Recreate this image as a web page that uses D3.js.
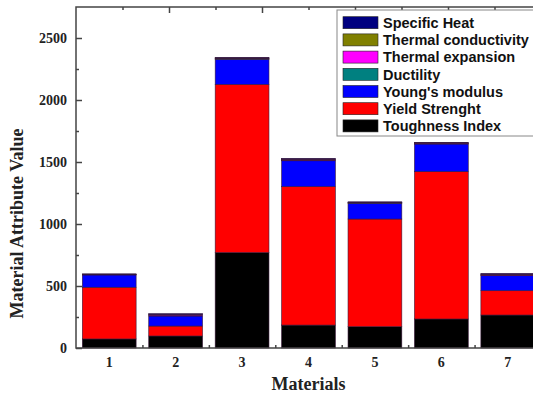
<!DOCTYPE html>
<html lang="en">
<head>
    <meta charset="UTF-8">
    <title>Material attributes</title>
    <style>
        body { margin: 0; background: #fff; }
        .tick-label { font-family: "Liberation Serif", "Times New Roman", serif; font-weight: bold; font-size: 14px; fill: #222; }
        .axis-title { font-family: "Liberation Serif", "Times New Roman", serif; font-weight: bold; font-size: 18px; fill: #222; }
        .legend-text { font-family: "Liberation Sans", Arial, sans-serif; font-weight: bold; font-size: 14.5px; fill: #111; }
    </style>
</head>
<body>
<script src="https://cdn.jsdelivr.net/npm/d3@7"></script>
<script>
    var materials = [1, 2, 3, 4, 5, 6, 7];

    // series, bottom to top of each stack
    var toughness = [73, 97, 770, 185, 172, 234, 266];
    var yieldStrength = [417, 80, 1356, 1116, 868, 1188, 196];
    var youngs = [99, 81, 202, 209, 127, 223, 121];
    var ductility = [2, 5, 4, 5, 3, 3, 4];
    var thermalExpansion = [3, 6, 5, 6, 4, 4, 6];
    var thermalConductivity = [1, 2, 1, 2, 1, 1, 2];
    var specificHeat = [3, 6, 5, 6, 4, 5, 6];

    var yTicks = [0, 500, 1000, 1500, 2000, 2500];

    var seriesNames = ["Toughness Index", "Yield Strenght", "Young's modulus", "Ductility",
        "Thermal expansion", "Thermal conductivity", "Specific Heat"];
    var seriesValues = [toughness, yieldStrength, youngs, ductility,
        thermalExpansion, thermalConductivity, specificHeat];
    var seriesColors = ["#000000", "#ff0000", "#0000ff", "#008080", "#ff00ff", "#808000", "#000080"];

    var width = 533, height = 397;
    var pLeft = 76, pRight = 541, pTop = 7, pBottom = 348;

    var svg = d3.select("body").append("svg")
        .attr("width", width)
        .attr("height", height);

    var x = d3.scaleLinear().domain([0.5, 7.5]).range([pLeft, pRight]);
    var xTop = d3.scaleLinear().domain([0, 10]).range([pLeft, pRight]);
    var y = d3.scaleLinear().domain([0, 2750]).range([pBottom, pTop]);

    /* table for the stack */
    var rows = materials.map(function (m, i) {
        var r = {material: m};
        seriesNames.forEach(function (n, k) { r[n] = seriesValues[k][i]; });
        return r;
    });
    var stacked = d3.stack().keys(seriesNames)(rows);

    var barW = x(1.31) - x(0.5);
    var axisColor = "#444";

    /* bars */
    svg.append("g").selectAll("g")
        .data(stacked)
        .enter().append("g")
        .attr("fill", function (d, i) { return seriesColors[i]; })
        .selectAll("rect")
        .data(function (d) { return d; })
        .enter().append("rect")
        .attr("x", function (d) { return x(d.data.material) - barW / 2; })
        .attr("y", function (d) { return y(d[1]); })
        .attr("width", barW)
        .attr("height", function (d) { return y(d[0]) - y(d[1]); })
        .attr("stroke", "#3a1a3a")
        .attr("stroke-width", 0.6);

    /* y axis, ticks inward */
    svg.append("g").attr("transform", "translate(" + pLeft + ",0)")
        .call(d3.axisRight(y).tickValues(yTicks).tickSize(6).tickFormat(""));
    svg.append("g").attr("transform", "translate(" + pLeft + ",0)")
        .call(d3.axisRight(y).tickValues(d3.range(250, 2750, 500)).tickSize(3).tickFormat(""));

    svg.append("g").selectAll("text")
        .data(yTicks)
        .enter().append("text")
        .attr("class", "tick-label")
        .attr("x", pLeft - 9)
        .attr("y", function (d) { return y(d); })
        .attr("dy", "0.35em")
        .attr("text-anchor", "end")
        .text(function (d) { return d; });

    /* x axis */
    svg.append("g").attr("transform", "translate(0," + pBottom + ")")
        .call(d3.axisTop(x).tickValues(d3.range(1.5, 7.5, 1)).tickSize(3).tickFormat(""));

    svg.append("g").selectAll("text")
        .data(materials)
        .enter().append("text")
        .attr("class", "tick-label")
        .attr("x", function (d) { return x(d); })
        .attr("y", pBottom + 19)
        .attr("text-anchor", "middle")
        .text(function (d) { return d; });

    /* top axis ticks */
    svg.append("g").attr("transform", "translate(0," + pTop + ")")
        .call(d3.axisBottom(xTop).tickValues([2, 4, 6, 8]).tickSize(6).tickFormat(""));
    svg.append("g").attr("transform", "translate(0," + pTop + ")")
        .call(d3.axisBottom(xTop).tickValues([1, 3, 5, 7, 9]).tickSize(3).tickFormat(""));

    svg.selectAll(".domain").remove();
    svg.selectAll(".tick line").attr("stroke", axisColor).attr("stroke-width", 1.5);

    /* frame */
    svg.append("path")
        .attr("d", "M" + pRight + "," + pTop + "H" + pLeft + "V" + pBottom + "H" + pRight)
        .attr("fill", "none")
        .attr("stroke", axisColor)
        .attr("stroke-width", 1.5);

    /* axis titles */
    svg.append("text")
        .attr("class", "axis-title")
        .attr("transform", "translate(23," + ((pTop + pBottom) / 2 + 46) + ") rotate(-90)")
        .attr("text-anchor", "middle")
        .text("Material Attribute Value");

    svg.append("text")
        .attr("class", "axis-title")
        .attr("x", x(4))
        .attr("y", 390)
        .attr("text-anchor", "middle")
        .text("Materials");

    /* legend */
    var legendItems = seriesNames.slice().reverse();
    var legendColors = seriesColors.slice().reverse();
    var legend = svg.append("g").attr("transform", "translate(337,10)");
    legend.append("rect")
        .attr("width", 210).attr("height", 126)
        .attr("fill", "#fff").attr("stroke", "#888").attr("stroke-width", 1);
    var item = legend.selectAll(".item")
        .data(legendItems)
        .enter().append("g")
        .attr("transform", function (d, i) { return "translate(6," + (12.7 + i * 17.2) + ")"; });
    item.append("rect")
        .attr("y", -6)
        .attr("width", 35).attr("height", 12)
        .attr("fill", function (d, i) { return legendColors[i]; })
        .attr("stroke", "#222").attr("stroke-width", 0.6);
    item.append("text")
        .attr("class", "legend-text")
        .attr("x", 40)
        .attr("dy", "0.36em")
        .text(function (d) { return d; });
</script>
</body>
</html>
